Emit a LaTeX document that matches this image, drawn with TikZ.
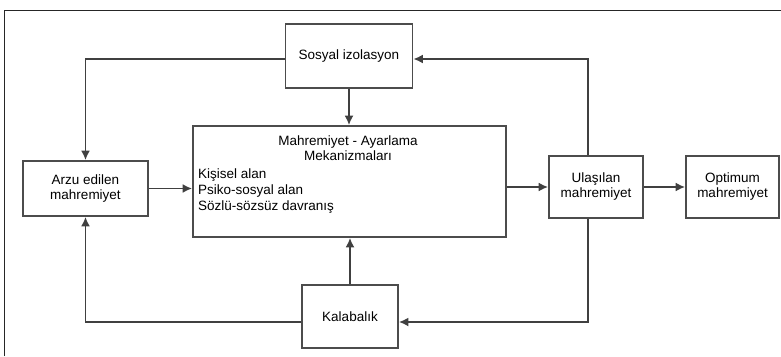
\documentclass[tikz,border=0pt]{standalone}
\usepackage{fontspec}
\setmainfont{Liberation Sans}
\usetikzlibrary{arrows.meta}
\begin{document}
\begin{tikzpicture}[x=1pt,y=-1pt,
  box/.style={draw=black!70,line width=1.8pt,rectangle,inner sep=0pt,align=center,
    font=\fontsize{13.5}{15}\selectfont},
  arr/.style={draw=black!75,line width=1.7pt,-{Latex[length=9.5pt,width=9pt]}},
  txt/.style={inner sep=0pt,font=\fontsize{13.5}{15}\selectfont}]
\useasboundingbox (0,0) rectangle (781,356);
\draw[line width=1.2pt,black!85] (4.7,356) -- (4.7,10.5) -- (781,10.5);

\node[box,minimum width=127pt,minimum height=64pt] (soc) at (349,56) {Sosyal izolasyon};
\node[box,minimum width=313pt,minimum height=111pt] (main) at (349.5,181.5) {};
\node[box,minimum width=125pt,minimum height=55pt] (arzu) at (85.5,188.5) {Arzu edilen\\mahremiyet};
\node[box,minimum width=94pt,minimum height=62pt] (ula) at (596,187) {Ulaşılan\\mahremiyet};
\node[box,minimum width=93pt,minimum height=62pt] (opt) at (732.5,187) {Optimum\\mahremiyet};
\node[box,minimum width=96pt,minimum height=63pt] (kal) at (350,316.5) {Kalabalık};

\node[txt,align=center] (title) at (348,148) {Mahremiyet - Ayarlama\\Mekanizmaları};
\node[txt,align=left,anchor=west,font=\fontsize{13.5}{16}\selectfont] (list) at (198,191) {Kişisel alan\\Psiko-sosyal alan\\Sözlü-sözsüz davranış};

\coordinate (ulaN) at ([xshift=-8pt]ula.north);
\coordinate (ulaS) at ([xshift=-8pt]ula.south);
\coordinate (kalE) at ([yshift=-5.5pt]kal.east);
\coordinate (kalW) at ([yshift=-5.5pt]kal.west);
\coordinate (socE) at ([yshift=-3pt]soc.east);
\coordinate (socW) at ([yshift=-3pt]soc.west);

\draw[arr] (socW) -| (arzu.north);
\draw[arr] (ulaN) |- (socE);
\draw[arr] (soc.south) -- (soc.south |- main.north);
\draw[arr] (arzu.east) -- (arzu.east -| main.west);
\draw[arr] (ula.west -| main.east) -- (ula.west);
\draw[arr] (ula.east) -- (opt.west);
\draw[arr] (ulaS) |- (kalE);
\draw[arr] (kal.north) -- (kal.north |- main.south);
\draw[arr] (kalW) -| (arzu.south);
\end{tikzpicture}
\end{document}
